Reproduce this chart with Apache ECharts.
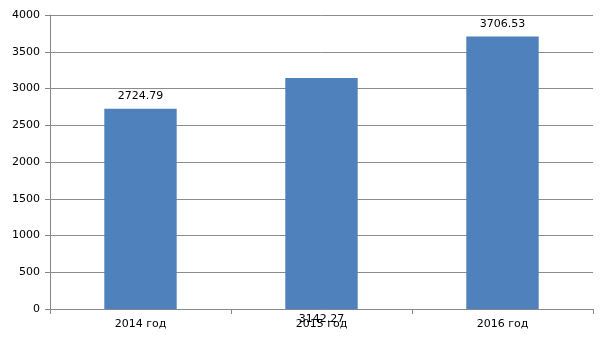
<!DOCTYPE html>
<html><head><meta charset="utf-8">
<script src="https://cdn.jsdelivr.net/npm/echarts@6/dist/echarts.min.js"></script>
<style>html,body{margin:0;padding:0;background:#fff}#c{width:605px;height:340px}</style>
</head><body><div id="c"></div>
<script>
const categories = ['2014 год', '2015 год', '2016 год'];
const values = [2724.79, 3142.27, 3706.53];
const labelPositions = ['top', 'bottom', 'top'];

const chart = echarts.init(document.getElementById('c'), null, {renderer: 'canvas'});
const font = 'DejaVu Sans';
chart.setOption({
  animation: false,
  grid: {left: 50, right: 12, top: 15, bottom: 31, containLabel: false},
  xAxis: {
    type: 'category', data: categories,
    axisLine: {lineStyle: {color: '#888', width: 1}},
    axisTick: {show: true, alignWithLabel: false, length: 5, lineStyle: {color: '#888'}},
    axisLabel: {color: '#000', fontFamily: font, fontSize: 11, margin: 10}
  },
  yAxis: {
    type: 'value', min: 0, max: 4000, interval: 500,
    axisLine: {show: true, lineStyle: {color: '#888', width: 1}},
    axisTick: {show: true, length: 5, lineStyle: {color: '#888'}},
    axisLabel: {color: '#000', fontFamily: font, fontSize: 11, margin: 10, formatter: v => String(v)},
    splitLine: {lineStyle: {color: '#8c8c8c', width: 1}}
  },
  series: [{
    type: 'bar', barWidth: '40%',
    itemStyle: {color: '#4F81BD'},
    data: values.map((v, i) => ({
      value: v,
      label: {show: true, position: labelPositions[i], distance: labelPositions[i] === 'top' ? 7 : 5,
        color: '#000', fontFamily: font, fontSize: 11, formatter: p => p.value.toFixed(2)}
    }))
  }]
});
</script></body></html>
